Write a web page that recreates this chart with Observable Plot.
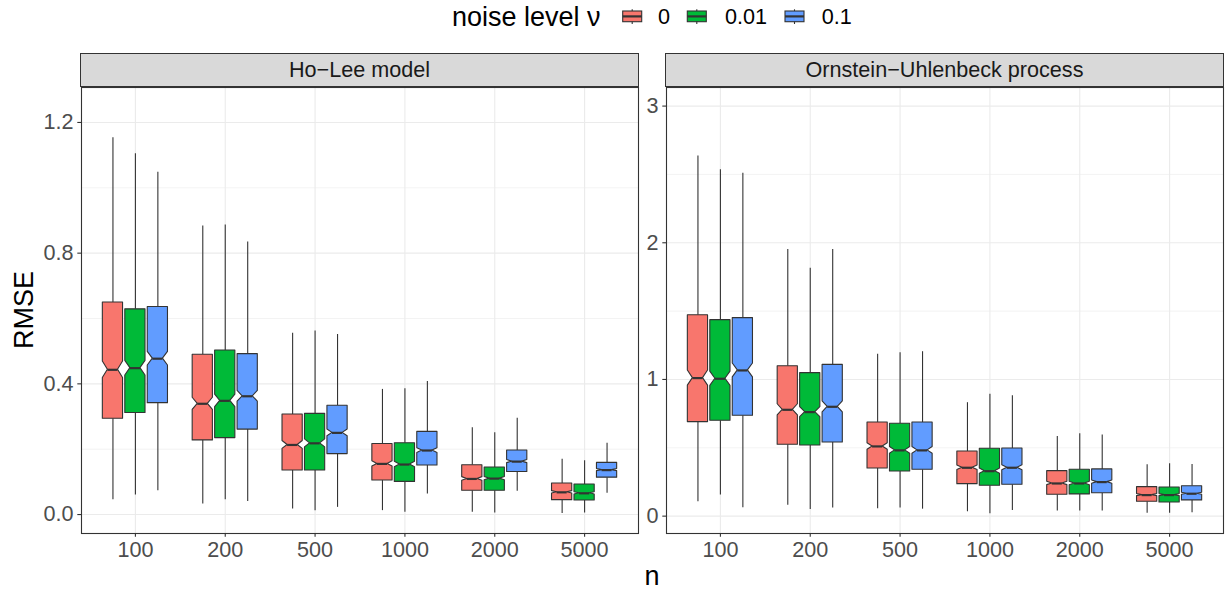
<!DOCTYPE html>
<html>
<head>
<meta charset="utf-8">
<script src="https://cdn.jsdelivr.net/npm/d3@7"></script>
<script src="https://cdn.jsdelivr.net/npm/@observablehq/plot@0.6"></script>
<style>
  html, body { margin: 0; padding: 0; background: #fff; }
  #root { position: relative; width: 1225px; height: 591px; overflow: hidden; background: #fff;
          font-family: "Liberation Sans", Arial, Helvetica, sans-serif; }
  .abs { position: absolute; }
  .strip { position: absolute; box-sizing: border-box; background: #D9D9D9; border: 1.07px solid #333333;
           color: #1A1A1A; font-size: 21.6px; display: flex; align-items: center; justify-content: center; }
</style>
</head>
<body>
<div id="root"></div>
<script>
// ---------- data ----------
const nLabels = ["100", "200", "500", "1000", "2000", "5000"];
const noiseLevels = ["0", "0.01", "0.1"];
const levelColors = ["#F8766D", "#00BA38", "#619CFF"];
const panelTitles = ["Ho\u2212Lee model", "Ornstein\u2212Uhlenbeck process"];
const nReps = 500; // sample size per box (for notch width)

// Ho-Lee model: rows = noise level (0, 0.01, 0.1), columns = n
const hlLower  = [[0.045, 0.032, 0.017, 0.012, 0.007, 0.003],
                  [0.060, 0.045, 0.012, 0.007, 0.005, 0.005],
                  [0.073, 0.040, 0.022, 0.063, 0.071, 0.065]];
const hlQ1     = [[0.293, 0.227, 0.135, 0.104, 0.073, 0.044],
                  [0.311, 0.234, 0.135, 0.100, 0.073, 0.043],
                  [0.341, 0.260, 0.185, 0.150, 0.130, 0.113]];
const hlMedian = [[0.443, 0.339, 0.213, 0.155, 0.109, 0.068],
                  [0.448, 0.348, 0.218, 0.153, 0.110, 0.065],
                  [0.477, 0.362, 0.250, 0.196, 0.162, 0.136]];
const hlQ3     = [[0.649, 0.489, 0.306, 0.216, 0.151, 0.095],
                  [0.628, 0.502, 0.308, 0.218, 0.144, 0.092],
                  [0.635, 0.491, 0.333, 0.253, 0.196, 0.158]];
const hlUpper  = [[1.153, 0.883, 0.555, 0.383, 0.266, 0.169],
                  [1.104, 0.886, 0.562, 0.385, 0.250, 0.165],
                  [1.048, 0.834, 0.551, 0.407, 0.295, 0.218]];

// Ornstein-Uhlenbeck process
const ouLower  = [[0.105, 0.080, 0.054, 0.032, 0.037, 0.022],
                  [0.154, 0.049, 0.059, 0.018, 0.037, 0.022],
                  [0.061, 0.059, 0.051, 0.042, 0.037, 0.025]];
const ouQ1     = [[0.688, 0.522, 0.349, 0.234, 0.156, 0.105],
                  [0.698, 0.517, 0.327, 0.222, 0.159, 0.100],
                  [0.734, 0.539, 0.339, 0.230, 0.168, 0.115]];
const ouMedian = [[1.010, 0.778, 0.510, 0.354, 0.239, 0.154],
                  [1.005, 0.761, 0.481, 0.329, 0.239, 0.154],
                  [1.066, 0.800, 0.481, 0.354, 0.249, 0.164]];
const ouQ3     = [[1.470, 1.097, 0.685, 0.473, 0.329, 0.212],
                  [1.434, 1.046, 0.676, 0.493, 0.339, 0.210],
                  [1.449, 1.107, 0.685, 0.495, 0.342, 0.219]];
const ouUpper  = [[2.634, 1.951, 1.185, 0.830, 0.583, 0.376],
                  [2.534, 1.814, 1.195, 0.892, 0.603, 0.383],
                  [2.509, 1.951, 1.203, 0.881, 0.593, 0.378]];

const hlTicks = [0, 0.4, 0.8, 1.2];
const hlMinor = [0.2, 0.6, 1.0];
const ouTicks = [0, 1, 2, 3];
const ouMinor = [0.5, 1.5, 2.5];

// ---------- build ----------
const FONT = '"Liberation Sans", Arial, Helvetica, sans-serif';
const GRID = "#EBEBEB";
const DARK = "#333333";
const dodge = 0.25, halfW = 0.1125;

function boxRows(lower, q1, med, q3, upper) {
  const boxes = [];
  noiseLevels.forEach((lev, g) => {
    nLabels.forEach((lab, i) => {
      const cx = i + 1 + (g - 1) * dodge;
      const iqr = q3[g][i] - q1[g][i];
      const notch = 1.58 * iqr / Math.sqrt(nReps);
      boxes.push({id: g + "-" + i, level: lev, cx, xl: cx - halfW, xr: cx + halfW,
        lower: lower[g][i], q1: q1[g][i], med: med[g][i], q3: q3[g][i], upper: upper[g][i],
        nl: med[g][i] - notch, nu: med[g][i] + notch});
    });
  });
  return boxes;
}

function outline(boxes) {
  const pts = [];
  for (const b of boxes) {
    const w = b.xr - b.xl;
    pts.push({id: b.id, level: b.level, y: b.q1, x1: b.xl, x2: b.xr});
    pts.push({id: b.id, level: b.level, y: b.nl, x1: b.xl, x2: b.xr});
    pts.push({id: b.id, level: b.level, y: b.med, x1: b.xl + w / 4, x2: b.xr - w / 4});
    pts.push({id: b.id, level: b.level, y: b.nu, x1: b.xl, x2: b.xr});
    pts.push({id: b.id, level: b.level, y: b.q3, x1: b.xl, x2: b.xr});
  }
  return pts;
}

function panel({boxes, yDomain, ticks, minor, tickFormat, width, marginLeft}) {
  const xs = nLabels.map((d, i) => i + 1);
  return Plot.plot({
    width, height: 505,
    marginLeft, marginRight: 2, marginTop: 1, marginBottom: 58,
    style: {fontFamily: FONT, fontSize: "21.6px", background: "transparent", overflow: "visible"},
    x: {type: "linear", domain: [0.4, 6.6]},
    y: {type: "linear", domain: yDomain},
    color: {domain: noiseLevels, range: levelColors},
    marks: [
      Plot.gridY(minor, {stroke: GRID, strokeOpacity: 1, strokeWidth: 0.6}),
      Plot.gridY(ticks, {stroke: GRID, strokeOpacity: 1, strokeWidth: 1.1}),
      Plot.gridX(xs, {stroke: GRID, strokeOpacity: 1, strokeWidth: 1.1}),
      Plot.ruleX(boxes, {x: "cx", y1: "lower", y2: "q1", stroke: DARK, strokeWidth: 1.1}),
      Plot.ruleX(boxes, {x: "cx", y1: "q3", y2: "upper", stroke: DARK, strokeWidth: 1.1}),
      Plot.areaX(outline(boxes), {y: "y", x1: "x1", x2: "x2", z: "id", fill: "level",
        stroke: DARK, strokeWidth: 1.1, curve: "linear"}),
      Plot.ruleY(boxes, {y: "med", x1: (d) => d.xl + (d.xr - d.xl) / 4, x2: (d) => d.xr - (d.xr - d.xl) / 4,
        stroke: DARK, strokeWidth: 2.2}),
      Plot.frame({stroke: DARK, strokeWidth: 1.1}),
      Plot.axisY({ticks, tickSize: 3.7, text: null, stroke: DARK, strokeWidth: 1.1, label: null}),
      Plot.axisY({ticks, tickSize: 0, tickPadding: 8, fill: "#4D4D4D", fontSize: 21.6,
        tickFormat, label: null}),
      Plot.axisX({ticks: xs, tickSize: 3.7, text: null, stroke: DARK, strokeWidth: 1.1, label: null}),
      Plot.axisX({ticks: xs, tickSize: 0, tickPadding: 8, fill: "#4D4D4D", fontSize: 21.6,
        tickFormat: (d) => nLabels[d - 1], label: null})
    ]
  });
}

const root = document.getElementById("root");

const left = panel({
  boxes: boxRows(hlLower, hlQ1, hlMedian, hlQ3, hlUpper),
  yDomain: [-0.058, 1.307], ticks: hlTicks, minor: hlMinor,
  tickFormat: d3.format(".1f"), width: 640, marginLeft: 81
});
left.classList.add("abs");
left.style.left = "0px"; left.style.top = "86px";
root.appendChild(left);

const right = panel({
  boxes: boxRows(ouLower, ouQ1, ouMedian, ouQ3, ouUpper),
  yDomain: [-0.127, 3.136], ticks: ouTicks, minor: ouMinor,
  tickFormat: d3.format("d"), width: 585, marginLeft: 26
});
right.classList.add("abs");
right.style.left = "640px"; right.style.top = "86px";
root.appendChild(right);

// strips
[[80, panelTitles[0]], [665, panelTitles[1]]].forEach(([x, t]) => {
  const s = document.createElement("div");
  s.className = "strip";
  s.style.left = x + "px"; s.style.top = "52.5px";
  s.style.width = "559px"; s.style.height = "34.5px";
  s.textContent = t;
  root.appendChild(s);
});

// overlay: legend and axis titles
const NS = "http://www.w3.org/2000/svg";
const ov = document.createElementNS(NS, "svg");
ov.setAttribute("width", 1225); ov.setAttribute("height", 591);
ov.setAttribute("class", "abs");
ov.style.left = "0px"; ov.style.top = "0px"; ov.style.pointerEvents = "none";
ov.style.fontFamily = FONT;
root.appendChild(ov);
function txt(str, x, y, size, attrs = {}) {
  const t = document.createElementNS(NS, "text");
  t.setAttribute("x", x); t.setAttribute("y", y);
  t.setAttribute("font-size", size); t.setAttribute("fill", "#000");
  for (const k in attrs) t.setAttribute(k, attrs[k]);
  t.textContent = str; ov.appendChild(t); return t;
}
function el(name, attrs) {
  const e = document.createElementNS(NS, name);
  for (const k in attrs) e.setAttribute(k, attrs[k]);
  ov.appendChild(e); return e;
}
txt("noise level \u03BD", 452, 26, 27);
const keyX = [632.2, 696.8, 794.5];
const labX = [658, 725, 821.7];
noiseLevels.forEach((lev, g) => {
  const kc = keyX[g];
  el("line", {x1: kc, x2: kc, y1: 9.3, y2: 24, stroke: DARK, "stroke-width": 1.1});
  el("rect", {x: kc - 9.5, y: 11, width: 19, height: 10.7, fill: levelColors[g], stroke: DARK, "stroke-width": 1.1});
  el("line", {x1: kc - 9.5, x2: kc + 9.5, y1: 16.4, y2: 16.4, stroke: DARK, "stroke-width": 2.2});
  txt(lev, labX[g], 23.5, 21.6);
});
txt("RMSE", 0, 0, 27, {"text-anchor": "middle", transform: "translate(33,310) rotate(-90)"});
txt("n", 652, 585, 27, {"text-anchor": "middle"});
</script>
</body>
</html>
